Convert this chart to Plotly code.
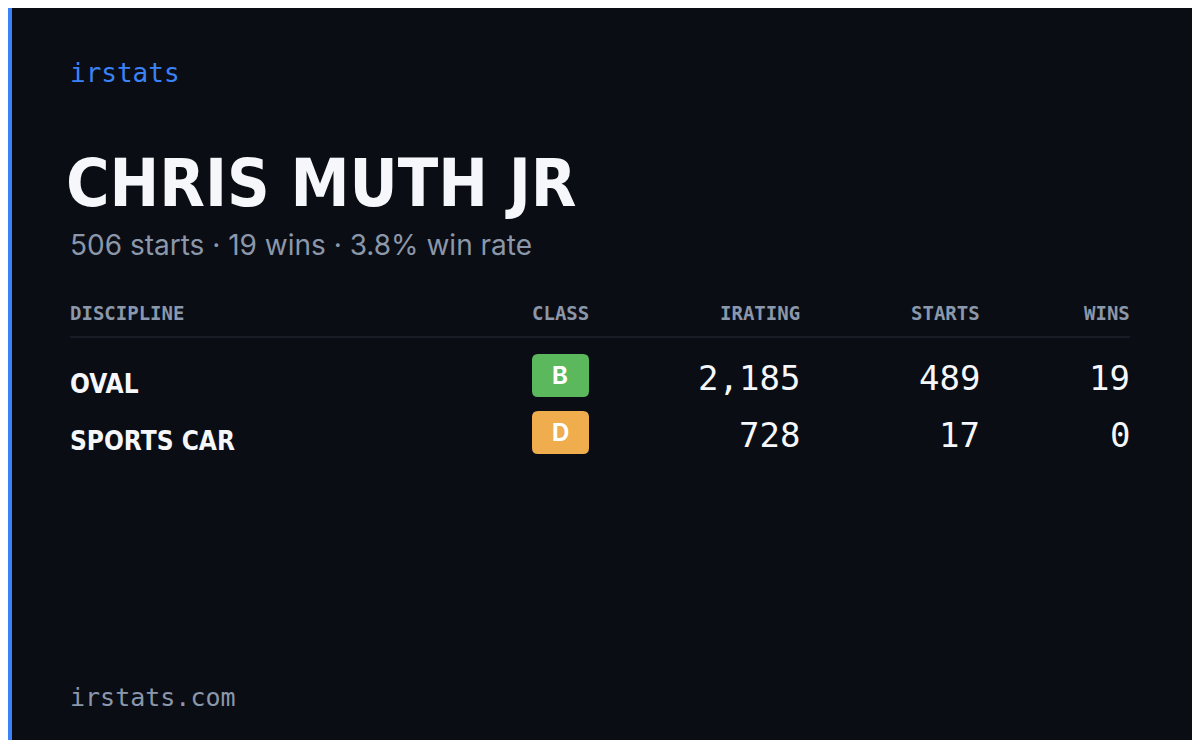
import plotly.graph_objects as go

disciplines = ["OVAL", "SPORTS CAR"]
classes = ["B", "D"]
iratings = [2185, 728]
starts = [489, 17]
wins = [19, 0]
driver = "CHRIS MUTH JR"
total_starts, total_wins = 506, 19
headers = ["DISCIPLINE", "CLASS", "IRATING", "STARTS", "WINS"]
class_colours = {"B": "#5cb85c", "D": "#f0ad4e"}

BG = "#0a0d14"
GREY = "#8b97aa"
MONO = "DejaVu Sans Mono"
COND = "DejaVu Sans Condensed"

fig = go.Figure()
# the page adds an 8px body margin, so the axes are shifted by that amount
fig.update_layout(
    width=1200, height=740, margin=dict(l=0, r=0, t=0, b=0),
    paper_bgcolor=BG, plot_bgcolor=BG, showlegend=False,
    xaxis=dict(range=[8, 1208], visible=False, fixedrange=True),
    yaxis=dict(range=[748, 8], visible=False, fixedrange=True),
)

fig.add_shape(type="rect", x0=0, x1=12, y0=0, y1=760, fillcolor="#3b82f6", line_width=0)
fig.add_shape(type="line", x0=70, x1=1130, y0=337, y1=337, line=dict(color="#1c222d", width=1.5))


def text(x, y, s, size, color, family, anchor="left", bold=False):
    if bold:
        s = "<b>" + s + "</b>"
    fig.add_annotation(x=x, y=y, text=s, showarrow=False, xanchor=anchor, yanchor="middle",
                       font=dict(size=size, color=color, family=family))


text(68, 73, "irstats", 26, "#3b82f6", MONO)
text(64, 183, driver, 66, "#f5f7fa", COND, bold=True)
win_rate = 100 * total_wins / total_starts
text(68, 245, f"{total_starts} starts · {total_wins} wins · {win_rate:.1f}% win rate", 28, GREY, "Inter")
text(68, 697, "irstats.com", 25, GREY, MONO)

# column positions (x, anchor)
cols = [(68, "left"), (560, "center"), (802, "right"), (982, "right"), (1132, "right")]
for (x, a), h in zip(cols, headers):
    text(x, 313, h, 19, GREY, MONO, a, bold=True)

row_y = [380, 437]
for i, name in enumerate(disciplines):
    y = row_y[i]
    text(68, y + 4, name, 26, "#f5f7fa", COND, bold=True)
    # rounded badge
    x0, x1, y0, y1, r = 532, 589, y - 26, y + 17, 6
    path = (f"M{x0+r},{y0} L{x1-r},{y0} Q{x1},{y0} {x1},{y0+r} L{x1},{y1-r} Q{x1},{y1} {x1-r},{y1} "
            f"L{x0+r},{y1} Q{x0},{y1} {x0},{y1-r} L{x0},{y0+r} Q{x0},{y0} {x0+r},{y0} Z")
    fig.add_shape(type="path", path=path, fillcolor=class_colours[classes[i]], line_width=0)
    text(560, y - 5, classes[i], 24, "#ffffff", "Inter", "center", bold=True)
    text(802, y - 2, f"{iratings[i]:,}", 34, "#f5f7fa", MONO, "right")
    text(982, y - 2, str(starts[i]), 34, "#f5f7fa", MONO, "right")
    text(1132, y - 2, str(wins[i]), 34, "#f5f7fa", MONO, "right")

fig.write_html("out.html")
